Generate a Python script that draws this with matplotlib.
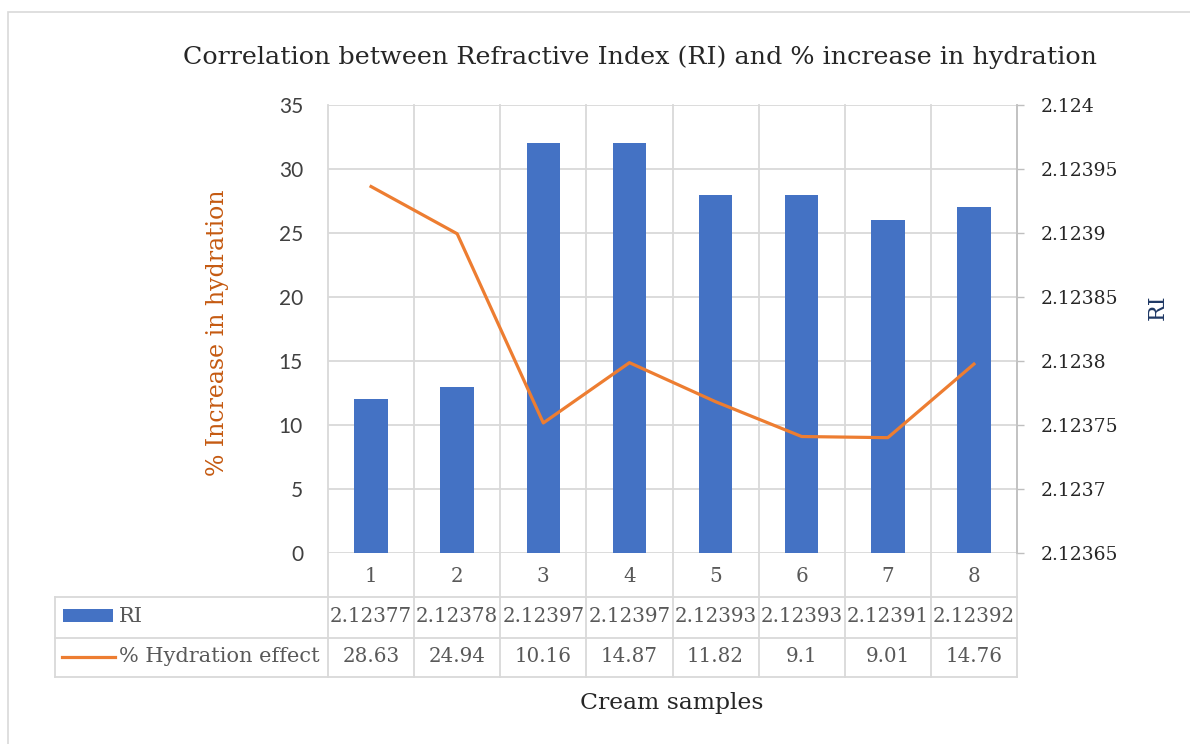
import matplotlib
matplotlib.use("Agg")
import matplotlib.pyplot as plt
import numpy as np
from matplotlib.transforms import blended_transform_factory
from matplotlib.patches import Rectangle
from matplotlib.lines import Line2D

# ---- data ----
categories = ["1", "2", "3", "4", "5", "6", "7", "8"]
ri_values = [2.12377, 2.12378, 2.12397, 2.12397, 2.12393, 2.12393, 2.12391, 2.12392]
ri_labels = ["2.12377", "2.12378", "2.12397", "2.12397", "2.12393", "2.12393", "2.12391", "2.12392"]
hydration = [28.63, 24.94, 10.16, 14.87, 11.82, 9.1, 9.01, 14.76]
hydration_labels = ["28.63", "24.94", "10.16", "14.87", "11.82", "9.1", "9.01", "14.76"]
left_ticks = [0, 5, 10, 15, 20, 25, 30, 35]
right_ticks = [2.12365, 2.1237, 2.12375, 2.1238, 2.12385, 2.1239, 2.12395, 2.124]
right_tick_labels = ["2.12365", "2.1237", "2.12375", "2.1238", "2.12385", "2.1239", "2.12395", "2.124"]
series_names = ["RI", "% Hydration effect"]
title = "Correlation between Refractive Index (RI) and % increase in hydration"
xlabel = "Cream samples"
ylabel_left = "% Increase in hydration"
ylabel_right = "RI"

# ---- style ----
W, H = 1190, 744
SERIF = "DejaVu Serif"
BLUE = "#4472C4"
ORANGE = "#ED7D31"
GRID = "#D9D9D9"
TXT = "#595959"

fig = plt.figure(figsize=(W / 100, H / 100), dpi=100)
fig.patch.set_facecolor("white")

# outer border
fig.add_artist(Rectangle((8 / W, -0.1), 1.2, 1 - 12 / H + 0.1, transform=fig.transFigure,
                         fill=False, edgecolor=GRID, lw=1.2))

ax_l, ax_r, ax_t, ax_b = 328, 1017, 105, 553
ax = fig.add_axes([ax_l / W, (H - ax_b) / H, (ax_r - ax_l) / W, (ax_b - ax_t) / H])
ax2 = ax.twinx()

x = np.arange(1, len(categories) + 1)

# bars (RI, right axis)
ax2.bar(x, ri_values, width=0.39, color=BLUE, zorder=2)
ax2.set_ylim(right_ticks[0], right_ticks[-1])
ax2.set_yticks(right_ticks)
ax2.set_yticklabels(right_tick_labels, family=SERIF, fontsize=13.5, color="#262626")
ax2.tick_params(axis="y", length=5, width=1, color="#BFBFBF", pad=12)
ax2.yaxis.grid(True, color=GRID, lw=1.3)
ax2.set_axisbelow(True)

# line (hydration, left axis)
ax.plot(x, hydration, color=ORANGE, lw=2.3, solid_joinstyle="round", zorder=3)
ax.set_ylim(left_ticks[0], left_ticks[-1])
ax.set_yticks(left_ticks)
ax.set_yticklabels([str(t) for t in left_ticks], family="Lato", fontsize=15, color="#404040")
ax.tick_params(axis="y", length=0, pad=18)
ax.set_xlim(0.5, len(categories) + 0.5)
ax.set_xticks([])
ax.set_zorder(ax2.get_zorder() + 1)
ax.patch.set_visible(False)

for a in (ax, ax2):
    for s in a.spines.values():
        s.set_visible(False)
ax2.spines["right"].set_visible(True)
ax2.spines["right"].set_color("#BFBFBF")
ax2.spines["right"].set_linewidth(1.2)

# ---- data table ----
axh = ax_b - ax_t
def yfrac(py):
    return (ax_b - py) / axh

row_lines = [597, 638, 677]
row_centers = [576, 617, 657]
bt = blended_transform_factory(ax.transData, ax.transAxes)
hdr_left = (55 - ax_l) / (ax_r - ax_l)

# vertical cell boundaries (full height through table)
bounds = np.arange(0.5, len(categories) + 1, 1.0)
for b in bounds:
    ax2.add_line(Line2D([b, b], [1, yfrac(row_lines[-1])], transform=bt, color=GRID,
                        lw=1.3, clip_on=False, zorder=0.5))
# header left border
ax2.add_line(Line2D([hdr_left, hdr_left], [yfrac(row_lines[0]), yfrac(row_lines[-1])],
                    transform=ax.transAxes, color=GRID, lw=1.3, clip_on=False, zorder=0.5))
# horizontal table lines
for ry in row_lines:
    ax2.add_line(Line2D([hdr_left, 1], [yfrac(ry), yfrac(ry)], transform=ax.transAxes,
                        color=GRID, lw=1.3, clip_on=False, zorder=0.5))

# cells
NUMFS = 14.3
for i, xi in enumerate(x):
    ax.text(xi, yfrac(row_centers[0]), categories[i], transform=bt, ha="center", va="center",
            family=SERIF, fontsize=NUMFS, color=TXT)
    ax.text(xi, yfrac(row_centers[1]), ri_labels[i], transform=bt, ha="center", va="center",
            family=SERIF, fontsize=NUMFS, color=TXT)
    ax.text(xi, yfrac(row_centers[2]), hydration_labels[i], transform=bt, ha="center", va="center",
            family=SERIF, fontsize=NUMFS, color=TXT)

# legend keys in header column
fig.add_artist(Rectangle((63 / W, (H - 622) / H), 50 / W, 13 / H, transform=fig.transFigure,
                         facecolor=BLUE, edgecolor="none"))
fig.add_artist(Line2D([62 / W, 115 / W], [(H - 657) / H] * 2, transform=fig.transFigure,
                      color=ORANGE, lw=2.3))
fig.text(119 / W, (H - row_centers[1]) / H, series_names[0], ha="left", va="center",
         family=SERIF, fontsize=15, color=TXT)
fig.text(119 / W, (H - row_centers[2]) / H, series_names[1], ha="left", va="center",
         family=SERIF, fontsize=15, color=TXT)

# titles
fig.text(640 / W, (H - 57) / H, title, ha="center", va="center", family=SERIF,
         fontsize=18.3, color="#262626")
fig.text(672 / W, (H - 703) / H, xlabel, ha="center", va="center", family=SERIF,
         fontsize=16.9, color="#262626")
fig.text(218 / W, (H - 333) / H, ylabel_left, ha="center", va="center", rotation=90,
         family=SERIF, fontsize=17, color="#C55A11")
fig.text(1158 / W, (H - 307) / H, ylabel_right, ha="center", va="center", rotation=90,
         family=SERIF, fontsize=16, color="#1F3864")

fig.savefig("out.png", dpi=100)
